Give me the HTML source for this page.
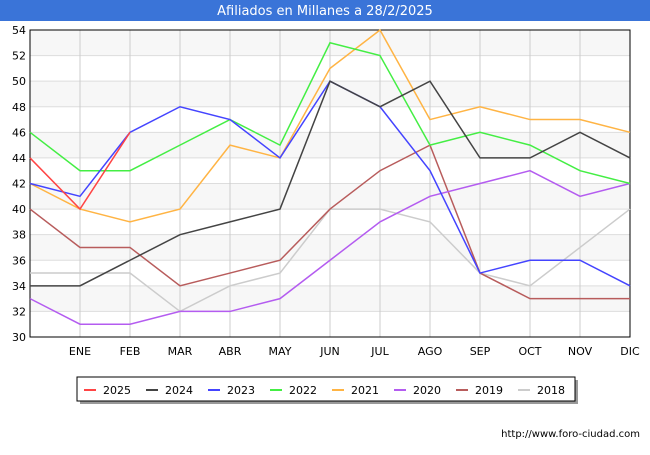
<!DOCTYPE html>
<html><head><meta charset="utf-8"><style>
body{margin:0;width:650px;height:450px;background:#fff;font-family:"Liberation Sans","DejaVu Sans",sans-serif;overflow:hidden}
</style></head><body>
<svg width="650" height="450" xmlns="http://www.w3.org/2000/svg">
<rect x="0" y="0" width="650" height="21" fill="#3a74d8"/>
<text x="325" y="15" text-anchor="middle" font-size="13" fill="#fff" font-family="DejaVu Sans,sans-serif">Afiliados en Millanes a 28/2/2025</text>
<g id="plot"></g>
<text x="640" y="437" text-anchor="end" font-size="10" fill="#000" font-family="DejaVu Sans,sans-serif">http://www.foro-ciudad.com</text>
</svg>
<script>
const categories=["","ENE","FEB","MAR","ABR","MAY","JUN","JUL","AGO","SEP","OCT","NOV","DIC"];
const yTicks=[30,32,34,36,38,40,42,44,46,48,50,52,54];
const seriesNames=["2025","2024","2023","2022","2021","2020","2019","2018"];
const seriesColors=["#ff4444","#444444","#4444ff","#44ee44","#ffb444","#b45cf0","#b85c5c","#cccccc"];
const s2025=[44,40,46];
const s2024=[34,34,36,38,39,40,50,48,50,44,44,46,44];
const s2023=[42,41,46,48,47,44,50,48,43,35,36,36,34];
const s2022=[46,43,43,45,47,45,53,52,45,46,45,43,42];
const s2021=[42,40,39,40,45,44,51,54,47,48,47,47,46];
const s2020=[33,31,31,32,32,33,36,39,41,42,43,41,42];
const s2019=[40,37,37,34,35,36,40,43,45,35,33,33,33];
const s2018=[35,35,35,32,34,35,40,40,39,35,34,37,40];
const seriesData=[s2025,s2024,s2023,s2022,s2021,s2020,s2019,s2018];
const NS="http://www.w3.org/2000/svg";
const g=document.getElementById('plot');
const L=30,R=630,T=30,B=337;
const x=i=>L+i*(R-L)/(categories.length-1);
const y=v=>B-(v-30)*(B-T)/24;
function mk(t,a){const e=document.createElementNS(NS,t);for(const k in a)e.setAttribute(k,a[k]);g.appendChild(e);return e;}
for(let i=0;i<yTicks.length-1;i++){
 if(i%2==1){const r=mk('rect',{x:L,y:y(yTicks[i+1]),width:R-L,height:y(yTicks[i])-y(yTicks[i+1]),fill:'#f7f7f7'});
 
 }
}
yTicks.forEach(v=>{
 const l=mk('line',{x1:L,x2:R,y1:y(v),y2:y(v),stroke:'#dddddd'});
 
 
 const t=mk('text',{x:L-4,y:y(v)+4,'text-anchor':'end','font-size':11,fill:'#000','font-family':'DejaVu Sans,sans-serif'});
 t.textContent=v;
 
 
});
categories.forEach((c,i)=>{
 const l=mk('line',{x1:x(i),x2:x(i),y1:T,y2:B,stroke:'#cccccc'});
 
 
 const t=mk('text',{x:x(i),y:B+18,'text-anchor':'middle','font-size':11,fill:'#000','font-family':'DejaVu Sans,sans-serif'});
 t.textContent=c;
 
 
});
const fr=mk('rect',{x:L,y:T,width:R-L,height:B-T,fill:'none',stroke:'#000'});


for(let s=seriesData.length-1;s>=0;s--){
 const p=mk('polyline',{points:seriesData[s].map((v,i)=>x(i)+','+y(v)).join(' '),fill:'none',stroke:seriesColors[s],'stroke-width':1.5});
 
 
}
const sh=mk('rect',{x:80,y:380,width:498,height:24,fill:'#999'});


const lb=mk('rect',{x:77,y:377,width:498,height:24,fill:'#fff',stroke:'#000'});


seriesNames.forEach((n,i)=>{
 const lx=84+i*62;
 const l=mk('line',{x1:lx,x2:lx+12,y1:390,y2:390,stroke:seriesColors[i],'stroke-width':2});
 
 
 const t=mk('text',{x:lx+19,y:394,'font-size':11,fill:'#000','font-family':'DejaVu Sans,sans-serif'});
 t.textContent=n;
 
 
});
</script>
</body></html>
